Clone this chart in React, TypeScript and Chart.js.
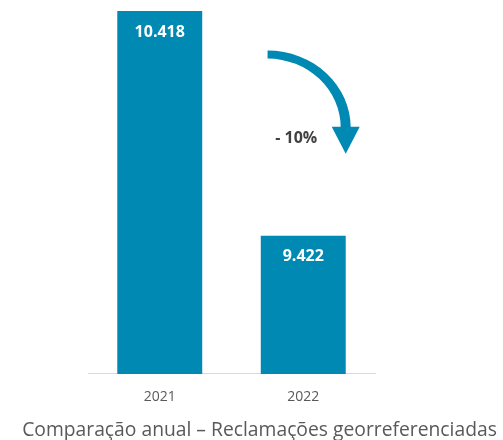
import React, { useEffect, useRef } from "react";
import { Chart, registerables } from "chart.js";

Chart.register(...registerables);

const categories = ["2021", "2022"];
const complaints = [10418, 9422];
const yMin = 8810;
const yMax = 10418;
const chartTitle = "Comparação anual – Reclamações georreferenciadas";

const BAR_COLOR = "#0089b2";
const FONT = "'Open Sans', 'DejaVu Sans', sans-serif";

function fmt(v: number): string {
  const s = Math.round(v).toString();
  return s.replace(/\B(?=(\d{3})+(?!\d))/g, ".");
}

const valueLabels = {
  id: "valueLabels",
  afterDatasetsDraw(chart: any) {
    const ctx = chart.ctx;
    const meta = chart.getDatasetMeta(0);
    ctx.save();
    ctx.fillStyle = "#ffffff";
    ctx.font = `bold 16px ${FONT}`;
    ctx.textAlign = "center";
    ctx.textBaseline = "middle";
    meta.data.forEach((bar: any, i: number) => {
      const p = bar.getProps(["x", "y"], true);
      ctx.fillText(fmt(complaints[i]), p.x, p.y + 21);
    });
    ctx.restore();
  },
};

const changeArrow = {
  id: "changeArrow",
  afterDatasetsDraw(chart: any) {
    const ctx = chart.ctx;
    const meta = chart.getDatasetMeta(0);
    const bar: any = meta.data[1];
    const p = bar.getProps(["x", "width"], true);
    const left = p.x - p.width / 2;
    const area = chart.chartArea;
    const H = area.bottom - area.top;
    const cx = left + 0.08 * p.width;
    const cy = area.top + 0.322 * H;
    const rx = 0.92 * p.width;
    const ry = cy - (area.top + 0.12 * H);
    ctx.save();
    ctx.fillStyle = BAR_COLOR;
    // curved shaft (slightly tapered)
    ctx.beginPath();
    ctx.ellipse(cx, cy, rx + 5, ry + 4, 0, -Math.PI / 2, 0, false);
    ctx.ellipse(cx, cy, rx - 5, ry - 4, 0, 0, -Math.PI / 2, true);
    ctx.closePath();
    ctx.fill();
    // arrow head
    const hx = cx + rx;
    ctx.beginPath();
    ctx.moveTo(hx - 14, cy - 1);
    ctx.lineTo(hx + 14, cy - 1);
    ctx.lineTo(hx, cy + 26);
    ctx.closePath();
    ctx.fill();
    // change text
    const pct = ((complaints[1] - complaints[0]) / complaints[0]) * 100;
    const txt = `${pct < 0 ? "-" : "+"} ${Math.round(Math.abs(pct))}%`;
    ctx.fillStyle = "#404040";
    ctx.font = `bold 16px ${FONT}`;
    ctx.textAlign = "center";
    ctx.textBaseline = "middle";
    ctx.fillText(txt, p.x - 7, area.top + 0.35 * H);
    ctx.restore();
  },
};

export default function App() {
  const ref = useRef<HTMLCanvasElement>(null);
  useEffect(() => {
    if (!ref.current) return;
    const chart = new Chart(ref.current, {
      type: "bar",
      data: {
        labels: categories,
        datasets: [
          {
            data: complaints,
            backgroundColor: BAR_COLOR,
            borderWidth: 0,
            barPercentage: 0.592,
            categoryPercentage: 1,
          },
        ],
      },
      options: {
        animation: false,
        responsive: false,
        maintainAspectRatio: false,
        layout: { padding: { left: 16, right: 0, top: 11, bottom: 0 } },
        plugins: {
          legend: { display: false },
          tooltip: { enabled: false },
          title: {
            display: true,
            position: "bottom",
            text: chartTitle,
            color: "#595959",
            font: { family: FONT, size: 19.3, weight: "normal", lineHeight: 1.0 },
            padding: { top: 0, bottom: 0 },
          },
        },
        scales: {
          x: {
            grid: { display: false, drawTicks: false },
            border: { display: true, color: "#d9d9d9", width: 1 },
            ticks: {
              color: "#595959",
              font: { family: FONT, size: 14 },
              padding: 15,
            },
          },
          y: {
            min: yMin,
            max: yMax,
            display: true,
            grid: { display: false, drawTicks: false },
            border: { display: false },
            ticks: { display: false },
            afterFit: (s: any) => {
              s.width = 72;
            },
          },
          y2: {
            position: "right",
            display: true,
            grid: { display: false, drawTicks: false },
            border: { display: false },
            ticks: { display: false },
            afterFit: (s: any) => {
              s.width = 128;
            },
          },
        },
      },
      plugins: [valueLabels, changeArrow],
    });
    return () => chart.destroy();
  }, []);
  return (
    <div style={{ position: "fixed", left: 0, top: 0, width: 503, height: 440, background: "#fff" }}>
      <canvas ref={ref} width={503} height={440} style={{ width: 503, height: 440, display: "block" }} />
    </div>
  );
}
